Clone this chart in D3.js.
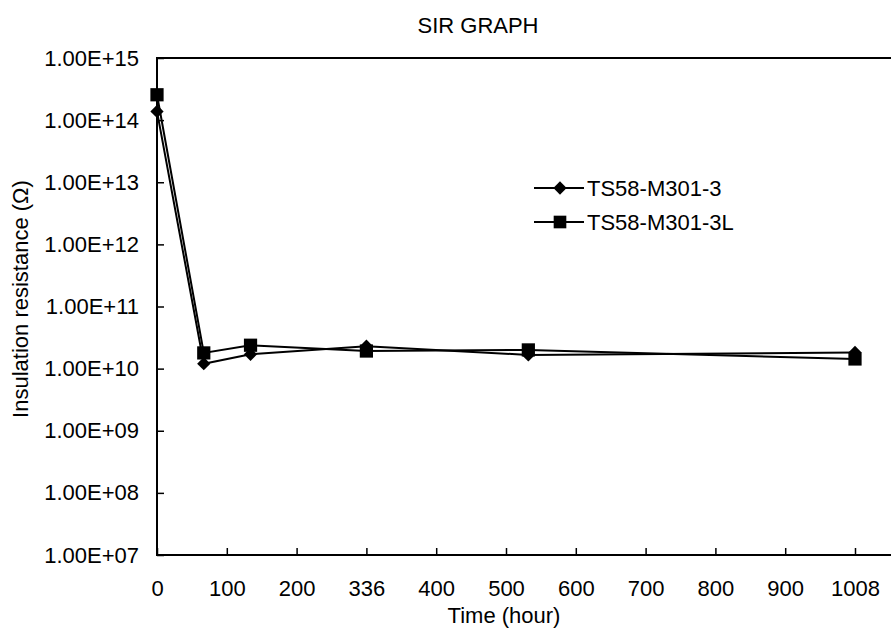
<!DOCTYPE html>
<html>
<head>
<meta charset="utf-8">
<script src="https://cdn.jsdelivr.net/npm/d3@7"></script>
<style>
  html, body { margin: 0; padding: 0; background: #fff; }
  svg { display: block; font-family: "Liberation Sans", Arial, sans-serif; }
</style>
</head>
<body>
<svg id="chart" width="891" height="632"></svg>
<script>
// Sample positions on the time axis and the tick labels shown under it
const timePositions = [0, 67, 134, 300, 532, 1000];
const tickPositions = [0, 100, 200, 300, 400, 500, 600, 700, 800, 900, 1000];
const tickLabels = ["0", "100", "200", "336", "400", "500", "600", "700", "800", "900", "1008"];

// Insulation resistance in ohms for each sample
const seriesNames = ["TS58-M301-3", "TS58-M301-3L"];
const ts58_3 = [1.38e14, 1.2e10, 1.7e10, 2.3e10, 1.66e10, 1.82e10];
const ts58_3L = [2.56e14, 1.79e10, 2.38e10, 1.92e10, 2.0e10, 1.43e10];

const yTicks = [1e7, 1e8, 1e9, 1e10, 1e11, 1e12, 1e13, 1e14, 1e15];

const svg = d3.select("#chart");
const plotLeft = 157, plotTop = 58, plotBottom = 555, plotRight = 930;

const x = d3.scaleLinear().domain([0, 1000]).range([plotLeft, 855]);
const y = d3.scaleLog().domain([1e7, 1e15]).range([plotBottom, plotTop]);

const fontSize = 22;
const fontFamily = "Liberation Sans, Arial, sans-serif";

// plot frame (right side runs past the page edge)
svg.append("path")
  .attr("d", `M${plotRight},${plotTop}H${plotLeft}V${plotBottom}H${plotRight}`)
  .attr("fill", "none").attr("stroke", "#000").attr("stroke-width", 2);

// x axis: inward ticks with custom labels
const xAxis = svg.append("g").attr("transform", `translate(0,${plotBottom})`)
  .call(d3.axisBottom(x).tickValues(tickPositions)
    .tickFormat((d, i) => tickLabels[i]).tickSizeInner(-7).tickSizeOuter(0).tickPadding(25));
xAxis.select(".domain").remove();
xAxis.selectAll("line").attr("stroke-width", 1.5);
xAxis.selectAll("text").attr("font-size", fontSize).attr("font-family", fontFamily).attr("fill", "#000");

// y axis: log scale, inward ticks, labels like 1.00E+07
const fmtExp = d => {
  const [m, e] = d.toExponential(2).toUpperCase().split("E");
  const n = Math.abs(+e);
  return `${m}E${+e < 0 ? "-" : "+"}${n < 10 ? "0" + n : n}`;
};
const yAxis = svg.append("g").attr("transform", `translate(${plotLeft},0)`)
  .call(d3.axisLeft(y).tickValues(yTicks).tickFormat(fmtExp)
    .tickSizeInner(-7).tickSizeOuter(0).tickPadding(18));
yAxis.select(".domain").remove();
yAxis.selectAll("line").attr("stroke-width", 1.5);
yAxis.selectAll("text").attr("font-size", fontSize).attr("font-family", fontFamily).attr("fill", "#000");

// titles
svg.append("text").attr("x", 478).attr("y", 33).attr("text-anchor", "middle")
  .attr("font-size", fontSize).text("SIR GRAPH");
svg.append("text").attr("x", 504).attr("y", 623).attr("text-anchor", "middle")
  .attr("font-size", fontSize).text("Time (hour)");
svg.append("text").attr("transform", `translate(28,299) rotate(-90)`)
  .attr("text-anchor", "middle").attr("font-size", fontSize).text("Insulation resistance (\u03A9)");

const line = d3.line().x((d, i) => x(timePositions[i])).y(d => y(d));

// diamond = square turned 45 degrees
const diamond = d3.symbol().type(d3.symbolSquare).size(88);
const square = d3.symbol().type(d3.symbolSquare).size(175);

const series = [
  { name: seriesNames[0], values: ts58_3, sym: diamond, rot: 45 },
  { name: seriesNames[1], values: ts58_3L, sym: square, rot: 0 }
];

series.forEach(s => {
  svg.append("path").datum(s.values).attr("d", line)
    .attr("fill", "none").attr("stroke", "#000").attr("stroke-width", 2);
  svg.append("g").selectAll("path").data(s.values).join("path")
    .attr("d", s.sym)
    .attr("transform", (d, i) => `translate(${x(timePositions[i])},${y(d)}) rotate(${s.rot})`)
    .attr("fill", "#000");
});

// legend
const legendSquare = d3.symbol().type(d3.symbolSquare).size(160);
const legend = svg.append("g");
series.forEach((s, i) => {
  const ly = 188 + i * 34;
  legend.append("line").attr("x1", 534).attr("x2", 584).attr("y1", ly).attr("y2", ly)
    .attr("stroke", "#000").attr("stroke-width", 2);
  legend.append("path").attr("d", s.rot ? s.sym : legendSquare)
    .attr("transform", `translate(560,${ly}) rotate(${s.rot})`).attr("fill", "#000");
  legend.append("text").attr("x", 587).attr("y", ly + 8).attr("font-size", fontSize).text(s.name);
});
</script>
</body>
</html>
